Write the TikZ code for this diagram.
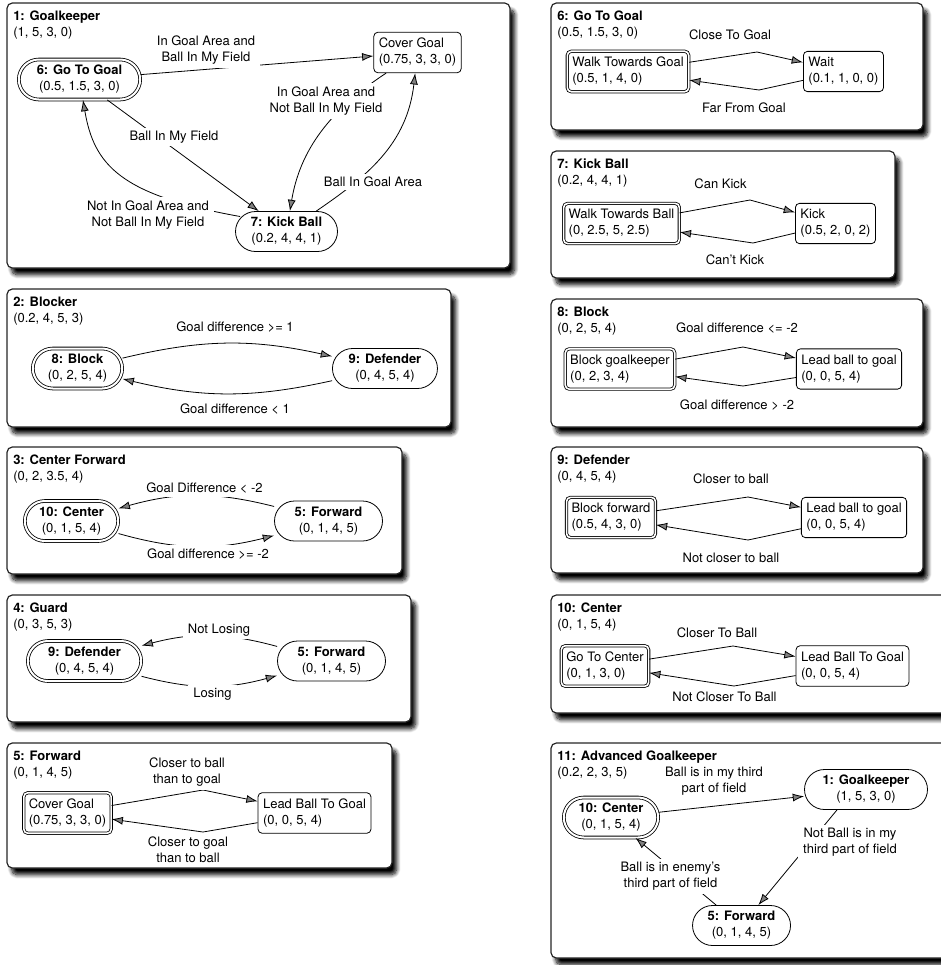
\documentclass[tikz,border=0pt]{standalone}
\usepackage{fontspec}
\setmainfont{TeX Gyre Heros}
\usepackage{tikz}
\usetikzlibrary{positioning}
\usetikzlibrary{arrows.meta}
\usetikzlibrary{shadows.blur}

\tikzset{
  panel/.style={draw=black!85, line width=0.9pt, rounded corners=4pt, fill=white,
    blur shadow={shadow xshift=3.5pt, shadow yshift=-5pt, shadow blur radius=3pt, shadow blur steps=10, shadow opacity=100}},
  paneltitle/.style={anchor=north west, align=left, inner sep=0pt},
  machine/.style={draw, rectangle, rounded corners=15pt, minimum height=30pt, align=center, inner sep=0pt, line width=0.6pt},
  initmachine/.style={machine, double, double distance=1.5pt},
  behaviour/.style={draw, rectangle, rounded corners=3pt, align=left, inner xsep=3.75pt, inner ysep=4.5pt, line width=0.6pt},
  initbehaviour/.style={behaviour, double, double distance=1.2pt},
  trans/.style={-{Latex[length=8.5pt,width=6pt]}, line width=0.6pt},
  cond/.style={fill=white, align=center, inner xsep=4pt, inner ysep=2.5pt},
}

\begin{document}
\begin{tikzpicture}[x=0.75pt, y=-0.75pt, on grid, font=\fontsize{9.75}{12}\selectfont]
\useasboundingbox (0,0) rectangle (940,965);
% Riquadri
\draw[panel] (7,3) rectangle (510,268);
\draw[panel] (7,289) rectangle (451,427);
\draw[panel] (7,447) rectangle (402,574);
\draw[panel] (7,595) rectangle (411,722);
\draw[panel] (7,743) rectangle (392,868);
\draw[panel] (551,3) rectangle (923,130);
\draw[panel] (551,151) rectangle (895,278);
\draw[panel] (551,299) rectangle (923,427);
\draw[panel] (551,447) rectangle (923,573);
\draw[panel] (551,595) rectangle (950,713);
\draw[panel] (551,743) rectangle (950,958);

% 1: Goalkeeper
\node[paneltitle] (t1) at (13,11) {\textbf{1: Goalkeeper}\\(1, 5, 3, 0)};
\node[initmachine, minimum width=91pt] (gtg1) at (79.5,79.5) {\textbf{6: Go To Goal}\\(0.5, 1.5, 3, 0)};
\node[behaviour, above right=20.25pt and 253.5pt of gtg1] (cover1) {Cover Goal\\(0.75, 3, 3, 0)};
\node[machine, minimum width=76.5pt, below right=114pt and 155.25pt of gtg1] (kick1) {\textbf{7: Kick Ball}\\(0.2, 4, 4, 1)};
\draw[trans] (gtg1) -- (cover1) node[cond] at (206,50) {In Goal Area and\\Ball In My Field};
\draw[trans] (gtg1) -- (kick1) node[cond] at (174,137) {Ball In My Field};
\draw[trans] (cover1) .. controls (330,110) and (300,150) .. (kick1) node[cond] at (326,101) {In Goal Area and\\Not Ball In My Field};
\draw[trans] (kick1) .. controls (366,177) and (407,145) .. (cover1) node[cond] at (373,182) {Ball In Goal Area};
\draw[trans] ([shift={(5,-15)}]kick1.west) .. controls (120,195) and (94,165) .. (gtg1) node[cond] at (148,215) {Not In Goal Area and\\Not Ball In My Field};

% 2: Blocker
\node[paneltitle] (t2) at (13,297) {\textbf{2: Blocker}\\(0.2, 4, 5, 3)};
\node[initmachine, minimum width=67pt] (block2) at (77.5,368.5) {\textbf{8: Block}\\(0, 2, 5, 4)};
\node[machine, minimum width=78.75pt, right=230.6pt of block2] (def2) {\textbf{9: Defender}\\(0, 4, 5, 4)};
\draw[trans] (block2) to[bend left=13] (def2) node[cond] at (235,327) {Goal difference >= 1};
\draw[trans] (def2) to[bend left=13] (block2) node[cond] at (235,409) {Goal difference < 1};

% 3: Center Forward
\node[paneltitle] (t3) at (13,455) {\textbf{3: Center Forward}\\(0, 2, 3.5, 4)};
\node[initmachine, minimum width=70pt] (cen3) at (71.5,521) {\textbf{10: Center}\\(0, 1, 5, 4)};
\node[machine, minimum width=81pt, right=192.75pt of cen3] (fwd3) {\textbf{5: Forward}\\(0, 1, 4, 5)};
\draw[trans] (fwd3) to[bend right=15] (cen3) node[cond] at (204.5,488.5) {Goal Difference < -2};
\draw[trans] (cen3) to[bend right=15] (fwd3) node[cond] at (208,554) {Goal difference >= -2};

% 4: Guard
\node[paneltitle] (t4) at (13,603) {\textbf{4: Guard}\\(0, 3, 5, 3)};
\node[initmachine, minimum width=85pt] (def4) at (84.5,661) {\textbf{9: Defender}\\(0, 4, 5, 4)};
\node[machine, minimum width=81pt, right=185.25pt of def4] (fwd4) {\textbf{5: Forward}\\(0, 1, 4, 5)};
\draw[trans] (fwd4) to[bend right=15] (def4) node[cond] at (219,630) {Not Losing};
\draw[trans] (def4) to[bend right=15] (fwd4) node[cond] at (212.5,694.5) {Losing};

% 5: Forward
\node[paneltitle] (t5) at (13,751) {\textbf{5: Forward}\\(0, 1, 4, 5)};
\node[initbehaviour] (cover5) at (67.5,813) {Cover Goal\\(0.75, 3, 3, 0)};
\node[behaviour, right=185.25pt of cover5] (lead5) {Lead Ball To Goal\\(0, 0, 5, 4)};
\draw[trans] (cover5) -- (203,790) -- (lead5) node[cond] at (187,772) {Closer to ball\\than to goal};
\draw[trans] (lead5) -- (203,832) -- (cover5) node[cond] at (188,850) {Closer to goal\\than to ball};

% 6: Go To Goal
\node[paneltitle] (t6) at (557,11) {\textbf{6: Go To Goal}\\(0.5, 1.5, 3, 0)};
\node[initbehaviour] (walk6) at (628,71.5) {Walk Towards Goal\\(0.5, 1, 4, 0)};
\node[behaviour, right=161.6pt of walk6] (wait6) {Wait\\(0.1, 1, 0, 0)};
\draw[trans] (walk6) -- (757,52) -- (wait6) node[cond] at (730,35) {Close To Goal};
\draw[trans] (wait6) -- (759,90) -- (walk6) node[cond] at (744,108) {Far From Goal};

% 7: Kick Ball
\node[paneltitle] (t7) at (557,159) {\textbf{7: Kick Ball}\\(0.2, 4, 4, 1)};
\node[initbehaviour] (walk7) at (621.5,223.5) {Walk Towards Ball\\(0, 2.5, 5, 2.5)};
\node[behaviour, right=160.5pt of walk7] (kick7) {Kick\\(0.5, 2, 0, 2)};
\draw[trans] (walk7) -- (750,200) -- (kick7) node[cond] at (720.5,184) {Can Kick};
\draw[trans] (kick7) -- (753,243) -- (walk7) node[cond] at (735,260) {Can't Kick};

% 8: Block
\node[paneltitle] (t8) at (557,307) {\textbf{8: Block}\\(0, 2, 5, 4)};
\node[initbehaviour] (block8) at (620,369) {Block goalkeeper\\(0, 2, 3, 4)};
\node[behaviour, right=171.75pt of block8] (lead8) {Lead ball to goal\\(0, 0, 5, 4)};
\draw[trans] (block8) -- (743,347) -- (lead8) node[cond] at (737,328) {Goal difference <= -2};
\draw[trans] (lead8) -- (743,386) -- (block8) node[cond] at (737,405) {Goal difference > -2};

% 9: Defender
\node[paneltitle] (t9) at (557,455) {\textbf{9: Defender}\\(0, 4, 5, 4)};
\node[initbehaviour] (block9) at (611,517.5) {Block forward\\(0.5, 4, 3, 0)};
\node[behaviour, right=182.25pt of block9] (lead9) {Lead ball to goal\\(0, 0, 5, 4)};
\draw[trans] (block9) -- (748,497) -- (lead9) node[cond] at (731,479) {Closer to ball};
\draw[trans] (lead9) -- (748,540) -- (block9) node[cond] at (731,558) {Not closer to ball};

% 10: Center
\node[paneltitle] (t10) at (557,603) {\textbf{10: Center}\\(0, 1, 5, 4)};
\node[initbehaviour] (goc10) at (605,666) {Go To Center\\(0, 1, 3, 0)};
\node[behaviour, right=185.6pt of goc10] (lead10) {Lead Ball To Goal\\(0, 0, 5, 4)};
\draw[trans] (goc10) -- (733,646) -- (lead10) node[cond] at (717,633) {Closer To Ball};
\draw[trans] (lead10) -- (734,686) -- (goc10) node[cond] at (724.5,697) {Not Closer To Ball};

% 11: Advanced Goalkeeper
\node[paneltitle] (t11) at (557,751) {\textbf{11: Advanced Goalkeeper}\\(0.2, 2, 3, 5)};
\node[initmachine, minimum width=70.75pt] (cen11) at (611,817.5) {\textbf{10: Center}\\(0, 1, 5, 4)};
\node[machine, minimum width=92.25pt, above right=21pt and 191.25pt of cen11] (gk11) {\textbf{1: Goalkeeper}\\(1, 5, 3, 0)};
\node[machine, minimum width=73.5pt, below right=81pt and 97.9pt of cen11] (fwd11) {\textbf{5: Forward}\\(0, 1, 4, 5)};
\draw[trans] (cen11) -- (gk11) node[cond] at (714,781) {Ball is in my third\\part of field};
\draw[trans] ([xshift=-21.75pt]gk11.south) -- (fwd11) node[cond] at (850,842) {Not Ball is in my\\third part of field};
\draw[trans] ([xshift=-19pt]fwd11.north) -- (cen11) node[cond] at (670.5,876) {Ball is in enemy's\\third part of field};
\end{tikzpicture}
\end{document}
